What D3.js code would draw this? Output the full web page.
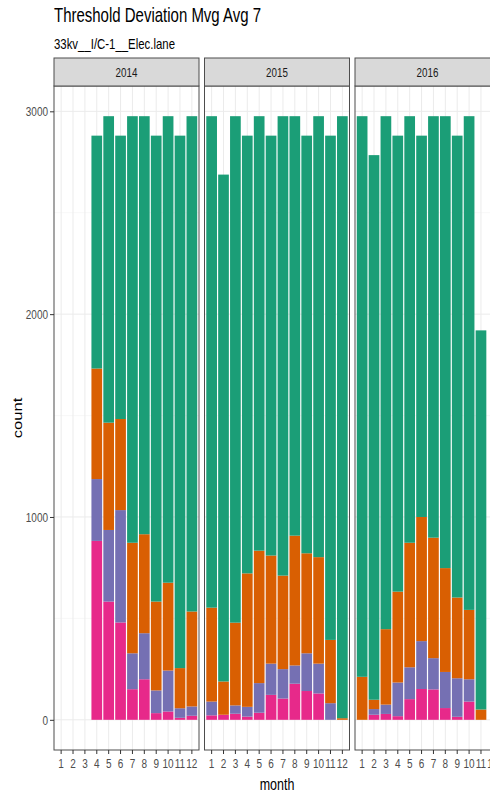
<!DOCTYPE html>
<html>
<head>
<meta charset="utf-8">
<script src="https://cdn.jsdelivr.net/npm/d3@7"></script>
<style>
  body { margin: 0; background: #fff; }
  svg { display: block; font-family: "Liberation Sans", Arial, Helvetica, sans-serif; }
</style>
</head>
<body>
<script>
// ---- data -------------------------------------------------------------
const years = ["2014", "2015", "2016"];
const months = [1, 2, 3, 4, 5, 6, 7, 8, 9, 10, 11, 12];
const yTicks = [0, 1000, 2000, 3000];

// counts per month (null = no readings); L1 sits on top of the stack, L4 at the bottom
const L1_2014 = [null, null, null, 1148, 1511, 1397, 2103, 2061, 2297, 2300, 2625, 2442];
const L2_2014 = [null, null, null, 545, 529, 449, 545, 488, 438, 433, 198, 468];
const L3_2014 = [null, null, null, 305, 353, 554, 177, 227, 112, 202, 47, 46];
const L4_2014 = [null, null, null, 882, 583, 480, 151, 200, 33, 41, 10, 20];

const L1_2015 = [2423, 2499, 2497, 2158, 2142, 2070, 2265, 2068, 2059, 2174, 2486, 2968];
const L2_2015 = [463, 164, 408, 658, 653, 533, 461, 640, 493, 525, 312, 8];
const L3_2015 = [68, 0, 41, 48, 146, 154, 145, 90, 186, 147, 82, 0];
const L4_2015 = [22, 25, 30, 16, 35, 123, 105, 178, 142, 130, 0, 0];

const L1_2016 = [2764, 2685, 2529, 2248, 2103, 1880, 2078, 2228, 2277, 2434, 1869, null];
const L2_2016 = [212, 46, 372, 448, 614, 612, 594, 512, 398, 342, 51, null];
const L3_2016 = [0, 28, 46, 166, 157, 236, 154, 178, 190, 110, 0, null];
const L4_2016 = [0, 25, 29, 18, 102, 152, 150, 58, 15, 90, 0, null];

const levels = ["L1", "L2", "L3", "L4"];
const levelColors = ["#1B9E77", "#D95F02", "#7570B3", "#E7298A"];

const seriesByYear = {
  "2014": [L1_2014, L2_2014, L3_2014, L4_2014],
  "2015": [L1_2015, L2_2015, L3_2015, L4_2015],
  "2016": [L1_2016, L2_2016, L3_2016, L4_2016]
};

// ---- layout -----------------------------------------------------------
const W = 490, H = 794;
const stretch = 1.33;            // vertical text stretch of the plot device
const panelTop = 86, panelBottom = 750, stripTop = 58;
const panelW = 145, panelGap = 5.5, firstLeft = 54;

const svg = d3.select("body").append("svg")
  .attr("width", W).attr("height", H);

function stretchedText(g, x, y, txt, size, opts = {}) {
  const t = g.append("text")
    .attr("transform", `translate(${x},${y}) scale(1,${stretch})` + (opts.rotate ? ` rotate(${opts.rotate})` : ""))
    .attr("font-size", size)
    .attr("fill", opts.fill || "#000")
    .attr("text-anchor", opts.anchor || "start")
    .text(txt);
  return t;
}

// title and subtitle
stretchedText(svg, firstLeft, 21.5, "Threshold Deviation Mvg Avg 7", 15);
stretchedText(svg, firstLeft, 49.3, "33kv__I/C-1__Elec.lane", 11.4);

// rows for stacking
function rowsFor(year) {
  const s = seriesByYear[year];
  return months.map((m, i) => {
    const r = { month: m };
    levels.forEach((k, j) => { r[k] = s[j][i] == null ? 0 : s[j][i]; });
    return r;
  });
}

const allTotals = years.flatMap(y => rowsFor(y).map(r => d3.sum(levels, k => r[k])));
const maxTotal = d3.max(allTotals);
const y = d3.scaleLinear()
  .domain([-0.05 * maxTotal, maxTotal * 1.05])
  .range([panelBottom, panelTop]);

// bottom of the stack is the last level
const stack = d3.stack().keys(levels.slice().reverse());
const colorOf = d3.scaleOrdinal().domain(levels).range(levelColors);

years.forEach((year, yi) => {
  const left = firstLeft + yi * (panelW + panelGap);
  const x = d3.scaleBand()
    .domain(months)
    .range([left, left + panelW])
    .paddingInner(0.1)
    .paddingOuter(0.15);

  const g = svg.append("g");

  // panel background + grid
  g.append("rect")
    .attr("x", left).attr("y", panelTop)
    .attr("width", panelW).attr("height", panelBottom - panelTop)
    .attr("fill", "#fff");

  const minor = [500, 1500, 2500];
  g.selectAll(".minor").data(minor).join("line")
    .attr("x1", left).attr("x2", left + panelW)
    .attr("y1", d => y(d)).attr("y2", d => y(d))
    .attr("stroke", "#F2F2F2").attr("stroke-width", 0.6);
  g.selectAll(".major").data(yTicks).join("line")
    .attr("x1", left).attr("x2", left + panelW)
    .attr("y1", d => y(d)).attr("y2", d => y(d))
    .attr("stroke", "#EBEBEB").attr("stroke-width", 1);
  g.selectAll(".vgrid").data(months).join("line")
    .attr("x1", d => x(d) + x.bandwidth() / 2).attr("x2", d => x(d) + x.bandwidth() / 2)
    .attr("y1", panelTop).attr("y2", panelBottom)
    .attr("stroke", "#EBEBEB").attr("stroke-width", 1);

  // stacked bars
  const layers = stack(rowsFor(year));
  g.selectAll(".layer").data(layers).join("g")
    .attr("fill", d => colorOf(d.key))
    .selectAll("rect").data(d => d.filter(p => p[1] > p[0])).join("rect")
      .attr("x", d => x(d.data.month))
      .attr("width", x.bandwidth())
      .attr("y", d => y(d[1]))
      .attr("height", d => y(d[0]) - y(d[1]));

  // panel border
  g.append("rect")
    .attr("x", left).attr("y", panelTop)
    .attr("width", panelW).attr("height", panelBottom - panelTop)
    .attr("fill", "none").attr("stroke", "#4d4d4d").attr("stroke-width", 1);

  // strip
  g.append("rect")
    .attr("x", left).attr("y", stripTop)
    .attr("width", panelW).attr("height", panelTop - stripTop)
    .attr("fill", "#D9D9D9").attr("stroke", "#4d4d4d").attr("stroke-width", 1);
  stretchedText(g, left + panelW / 2, 76.5, year, 9.8, { anchor: "middle", fill: "#1A1A1A" });

  // x axis
  const xa = g.append("g")
    .attr("transform", `translate(0,${panelBottom})`)
    .call(d3.axisBottom(x).tickSize(4).tickPadding(2.5).tickSizeOuter(0));
  xa.select(".domain").remove();
  xa.selectAll("line").attr("stroke", "#333");
  xa.selectAll("text")
    .attr("font-size", 10).attr("fill", "#4D4D4D")
    .attr("font-family", null)
    .attr("transform", `scale(1,${stretch})`);

  // y axis on the first panel only
  if (yi === 0) {
    const ya = g.append("g")
      .attr("transform", `translate(${left},0)`)
      .call(d3.axisLeft(y).tickValues(yTicks).tickFormat(d3.format("d"))
        .tickSize(4).tickPadding(2).tickSizeOuter(0));
    ya.select(".domain").remove();
    ya.selectAll("line").attr("stroke", "#333");
    ya.selectAll("text")
      .attr("font-size", 10).attr("fill", "#4D4D4D")
      .attr("font-family", null)
      .attr("transform", `scale(1,${stretch})`);
  }
});

// axis titles
const plotCenterX = firstLeft + (3 * panelW + 2 * panelGap) / 2;
stretchedText(svg, plotCenterX, 790, "month", 12.5, { anchor: "middle" });
stretchedText(svg, 22, (panelTop + panelBottom) / 2, "count", 12.5, { anchor: "middle", rotate: -90 });
</script>
</body>
</html>
